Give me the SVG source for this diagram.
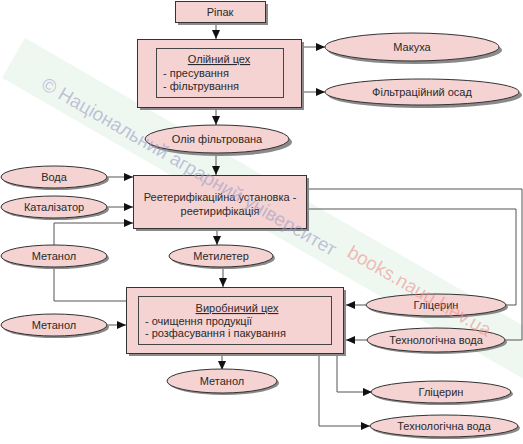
<svg xmlns="http://www.w3.org/2000/svg" width="523" height="444" viewBox="0 0 523 444">
<style>
text{font-family:"Liberation Sans",Arial,sans-serif;font-size:11px;fill:#2a2a2a}
.c{text-anchor:middle}
.n{fill:#f5d3d2;stroke:#333;stroke-width:1}
.sh{fill:#8a8a8a}
.in{fill:none;stroke:#444;stroke-width:1}
.ln{fill:none;stroke:#555;stroke-width:1}
.ar{marker-end:url(#ah)}
.wm1{font-size:19px;fill:#9d9dc4;fill-opacity:0.6}
.wm2{font-size:19px;fill:#ee8f8f;fill-opacity:0.6}
</style>
<defs>
<marker id="ah" markerWidth="9" markerHeight="8" refX="9" refY="4" orient="auto" markerUnits="userSpaceOnUse">
<path d="M0,0 L9,4 L0,8 z" fill="#111"/>
</marker>
</defs>
<rect width="523" height="444" fill="#fff"/>
<g id="band">
<rect x="25" y="38" width="640" height="46" fill="#eef8f1" transform="rotate(30 25 38)"/>
</g>
<g id="connectors">
<path class="ln ar" d="M216,22 V39"/>
<path class="ln ar" d="M304,47 H325"/>
<path class="ln ar" d="M304,92 H325"/>
<path class="ln ar" d="M216,110 V125"/>
<path class="ln ar" d="M216,153 V175"/>
<path class="ln ar" d="M108,177 H133"/>
<path class="ln ar" d="M108,207 H133"/>
<path class="ln ar" d="M54,245 V223 H133"/>
<path class="ln" d="M54,267 V301 H126"/>
<path class="ln ar" d="M217,231 V245"/>
<path class="ln ar" d="M223,267 V287"/>
<path class="ln ar" d="M108,325 H126"/>
<path class="ln ar" d="M366,305 H346"/>
<path class="ln ar" d="M367,340 H346"/>
<path class="ln" d="M506,305 H516 V209 H309"/>
<path class="ln" d="M505,340 H522 V189 H309"/>
<path class="ln ar" d="M222,356 V370"/>
<path class="ln ar" d="M337,356 V392 H372"/>
<path class="ln ar" d="M319,356 V426 H370"/>
</g>
<g id="ripak">
<rect class="sh" x="178" y="4" width="90" height="21"/>
<rect class="n" x="175.5" y="1.5" width="90" height="21"/>
<text class="c" x="220" y="16">Ріпак</text>
</g>
<g id="oliynyi">
<rect class="sh" x="140" y="42" width="164" height="68"/>
<rect class="n" x="137.5" y="39.5" width="164" height="68"/>
<rect class="in" x="156.5" y="48.5" width="127" height="49"/>
<text class="c" x="219" y="63" text-decoration="underline">Олійний цех</text>
<text x="163" y="77">- пресування</text>
<text x="163" y="90">- фільтрування</text>
</g>
<g id="makukha">
<ellipse class="sh" cx="415" cy="50" rx="87" ry="14"/>
<ellipse class="n" cx="412" cy="47" rx="87" ry="14"/>
<text class="c" x="412" y="51">Макуха</text>
</g>
<g id="osad">
<ellipse class="sh" cx="425" cy="95" rx="97" ry="13"/>
<ellipse class="n" cx="422" cy="92" rx="97" ry="13"/>
<text class="c" x="422" y="96">Фільтраційний осад</text>
</g>
<g id="oliya">
<ellipse class="sh" cx="220" cy="142" rx="72" ry="14"/>
<ellipse class="n" cx="217" cy="139" rx="72" ry="14"/>
<text class="c" x="217" y="143">Олія фільтрована</text>
</g>
<g id="reeter">
<rect class="sh" x="136" y="178" width="173" height="53"/>
<rect class="n" x="133.5" y="175.5" width="173" height="53"/>
<text class="c" x="220" y="201">Реетерифікаційна установка -</text>
<text class="c" x="220" y="215">реетирифікація</text>
</g>
<g id="voda">
<ellipse class="sh" cx="56" cy="179" rx="53" ry="11"/>
<ellipse class="n" cx="54" cy="177" rx="53" ry="11"/>
<text class="c" x="54" y="181">Вода</text>
</g>
<g id="katalizator">
<ellipse class="sh" cx="56" cy="209" rx="53" ry="11"/>
<ellipse class="n" cx="54" cy="207" rx="53" ry="11"/>
<text class="c" x="54" y="211">Каталізатор</text>
</g>
<g id="metanol1">
<ellipse class="sh" cx="56" cy="258" rx="53" ry="11"/>
<ellipse class="n" cx="54" cy="256" rx="53" ry="11"/>
<text class="c" x="54" y="260">Метанол</text>
</g>
<g id="metyleter">
<ellipse class="sh" cx="223" cy="258" rx="52" ry="11"/>
<ellipse class="n" cx="221" cy="256" rx="52" ry="11"/>
<text class="c" x="221" y="260">Метилетер</text>
</g>
<g id="metanol2">
<ellipse class="sh" cx="56" cy="327" rx="53" ry="11"/>
<ellipse class="n" cx="54" cy="325" rx="53" ry="11"/>
<text class="c" x="54" y="329">Метанол</text>
</g>
<g id="vyrobnychyi">
<rect class="sh" x="129" y="290" width="217" height="66"/>
<rect class="n" x="126.5" y="287.5" width="217" height="66"/>
<rect class="in" x="138.5" y="296.5" width="193" height="48"/>
<text class="c" x="237" y="312" text-decoration="underline">Виробничий цех</text>
<text x="145" y="325">- очищення продукції</text>
<text x="145" y="337">- розфасування і пакування</text>
</g>
<g id="glitseryn1">
<ellipse class="sh" cx="438" cy="307" rx="70" ry="11"/>
<ellipse class="n" cx="436" cy="305" rx="70" ry="11"/>
<text class="c" x="436" y="309">Гліцерин</text>
</g>
<g id="tekhvoda1">
<ellipse class="sh" cx="438" cy="342" rx="69" ry="12"/>
<ellipse class="n" cx="436" cy="340" rx="69" ry="12"/>
<text class="c" x="436" y="344">Технологічна вода</text>
</g>
<g id="metanol3">
<ellipse class="sh" cx="224" cy="383" rx="55" ry="12"/>
<ellipse class="n" cx="222" cy="381" rx="55" ry="12"/>
<text class="c" x="222" y="385">Метанол</text>
</g>
<g id="glitseryn2">
<ellipse class="sh" cx="443" cy="394" rx="70" ry="11"/>
<ellipse class="n" cx="441" cy="392" rx="70" ry="11"/>
<text class="c" x="441" y="396">Гліцерин</text>
</g>
<g id="tekhvoda2">
<ellipse class="sh" cx="446" cy="428" rx="74" ry="11"/>
<ellipse class="n" cx="444" cy="426" rx="74" ry="11"/>
<text class="c" x="444" y="430">Технологічна вода</text>
</g>
<g id="watermark">
<text class="wm1" x="40" y="88" transform="rotate(30 40 88)">© Національний аграрний університет</text>
<text class="wm2" x="346" y="256" transform="rotate(30 346 256)">books.nauu.kiev.ua</text>
</g>
</svg>
